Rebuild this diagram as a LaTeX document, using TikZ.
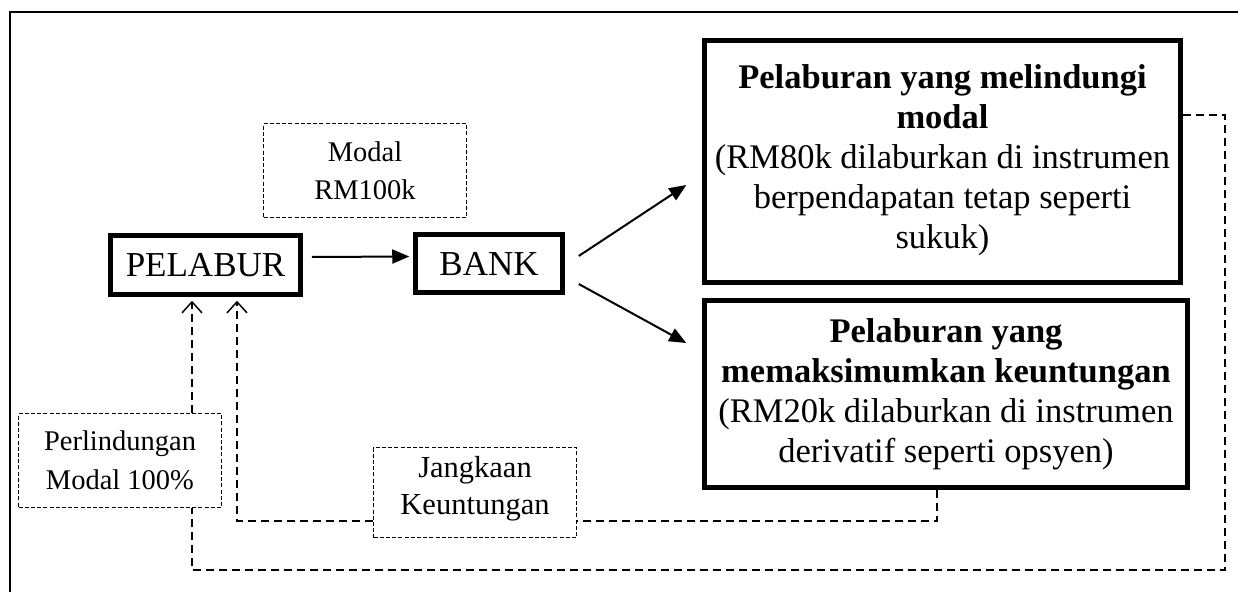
\documentclass[tikz,border=0pt]{standalone}
\usepackage{fontspec}
\setmainfont{Liberation Serif}
\usetikzlibrary{arrows.meta,calc}
\begin{document}
\begin{tikzpicture}[x=1pt,y=-1pt,
  every node/.style={inner sep=0pt, align=center},
  bigfont/.style={font=\fontsize{35}{40}\selectfont},
  rightfont/.style={font=\fontsize{34.5}{40}\selectfont},
  smallfont/.style={font=\fontsize{28.5}{38.5}\selectfont},
  midfont/.style={font=\fontsize{30.5}{37}\selectfont},
  thickbox/.style={draw, line width=4.5pt},
  dashbox/.style={draw, line width=1.5pt, dash pattern=on 4pt off 2.2pt},
  conn/.style={line width=1.5pt, dash pattern=on 8pt off 5pt},
  openarrow/.style={-{Straight Barb[length=11pt,width=20pt,line width=1.5pt]}},
  solidarrow/.style={line width=2pt, -{Triangle[length=17pt,width=14pt]}}]
\useasboundingbox (0,0) rectangle (1238,592);
% outer frame
\draw[line width=2pt] (10,592) -- (10,12) -- (1238,12);
% main boxes
\node[thickbox, bigfont, minimum width=190, minimum height=59] (pel) at (205.5,265) {PELABUR};
\node[thickbox, bigfont, minimum width=147, minimum height=58] (bank) at (489,263.5) {BANK};
\node[thickbox, minimum width=476, minimum height=242] (tr) at (942.5,161.5) {};
\node[rightfont, anchor=center] (trtext) at ($(tr.center)+(0,-1)$) {\textbf{Pelaburan yang melindungi}\\\textbf{modal}\\(RM80k dilaburkan di instrumen\\berpendapatan tetap seperti\\sukuk)};
\node[thickbox, minimum width=483, minimum height=187] (br) at (946,394) {};
\node[rightfont, anchor=center] (brtext) at (br.center) {\textbf{Pelaburan yang}\\\textbf{memaksimumkan keuntungan}\\(RM20k dilaburkan di instrumen\\derivatif seperti opsyen)};
% dashed label boxes
\node[dashbox, smallfont, minimum width=203, minimum height=94] (modal) at (365,170.5) {Modal\\RM100k};
\node[dashbox, smallfont, minimum width=203, minimum height=94] (perl) at (120,460.5) {Perlindungan\\Modal 100\%};
\node[dashbox, minimum width=203, minimum height=90] (jk) at (475,492.5) {};
\node[midfont] (jktext) at ($(jk.center)+(0,-4)$) {Jangkaan\\Keuntungan};
% solid arrows
\draw[solidarrow] ($(pel.east)+(9,-8)$) -- ($(bank.west)+(-4,-7)$);
\draw[solidarrow] ($(bank.east)+(14,-7.5)$) -- ($(tr.west)+(-16,23.5)$);
\draw[solidarrow] ($(bank.east)+(14,20.5)$) -- ($(br.west)+(-16,-51)$);
% dashed connectors
\coordinate (rt) at (1225,115);
\coordinate (bl) at (192,570);
\coordinate (jr) at (937,521);
\coordinate (jl) at (237,521);
\draw[conn] (tr.east |- rt) -- (rt) -- (rt |- bl) -- (bl) -- (bl |- perl.south);
\draw[conn, openarrow] (bl |- perl.north) -- ($(bl |- pel.south)+(0,4)$);
\draw[conn] (br.south -| jr) -- (jr) -- (jk.east |- jr);
\draw[conn, openarrow] (jk.west |- jr) -- (jl) -- ($(jl |- pel.south)+(0,4)$);
\end{tikzpicture}
\end{document}
